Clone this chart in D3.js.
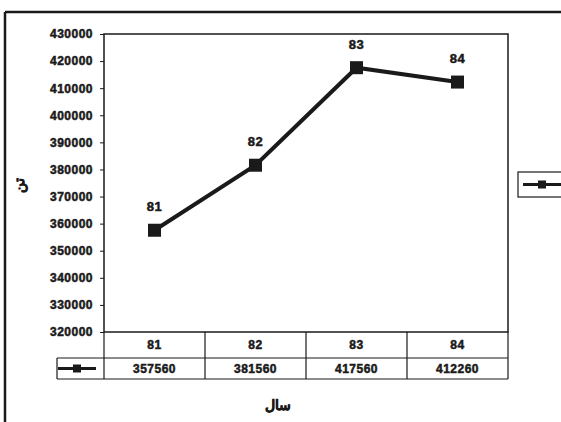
<!DOCTYPE html>
<html>
<head>
<meta charset="utf-8">
<script src="https://cdn.jsdelivr.net/npm/d3@7"></script>
<style>
  body { margin: 0; background: #fff; }
  svg text { font-family: "Liberation Sans", Arial, sans-serif; font-weight: bold; }
</style>
</head>
<body>
<svg id="chart"></svg>
<script>
const svg = d3.select("#chart");
const width = 561;
const height = 422;
svg.attr("width", width).attr("height", height);

// data
const years = ["81", "82", "83", "84"];
const values = [357560, 381560, 417560, 412260];
const yTicks = [320000, 330000, 340000, 350000, 360000, 370000, 380000, 390000, 400000, 410000, 420000, 430000];
const yTitle = "تن";
const xTitle = "سال";

const plot = { left: 104, right: 508, top: 34, bottom: 332 };
const rowH = [26, 21];
const ink = "#1a1a1a";

const x = d3.scaleBand().domain(years).range([plot.left, plot.right]);
const y = d3.scaleLinear().domain([320000, 430000]).range([plot.bottom, plot.top]);

// heavy text look of the scanned chart
function heavy(sel, size) {
    sel.attr("font-size", size).attr("fill", ink)
        .attr("stroke", ink).attr("stroke-width", 0.5)
        .style("letter-spacing", "0.5px")
        .style("font-family", "'Liberation Sans', Arial, sans-serif").style("font-weight", "bold");
}

// outer frame
svg.append("line").attr("x1", 5).attr("x2", width).attr("y1", 12).attr("y2", 12)
    .attr("stroke", ink).attr("stroke-width", 2.5);
svg.append("line").attr("x1", 5).attr("x2", 5).attr("y1", 12).attr("y2", height)
    .attr("stroke", ink).attr("stroke-width", 2.5);

// plot area border
svg.append("rect")
    .attr("x", plot.left).attr("y", plot.top)
    .attr("width", plot.right - plot.left).attr("height", plot.bottom - plot.top)
    .attr("fill", "none").attr("stroke", ink).attr("stroke-width", 1.5);

// y axis
const yAxis = svg.append("g")
    .attr("transform", `translate(${plot.left},0)`)
    .call(d3.axisLeft(y).tickValues(yTicks).tickSize(4).tickPadding(7).tickFormat(d3.format("d")));
yAxis.select(".domain").remove();
yAxis.selectAll("line").attr("stroke", ink);
heavy(yAxis.selectAll("text"), 12);

// y title
heavy(svg.append("text")
    .attr("transform", `translate(24,185) rotate(-90)`)
    .attr("text-anchor", "middle")
    .text(yTitle), 14);

// line
const line = d3.line()
    .x((d, i) => x(years[i]) + x.bandwidth() / 2)
    .y(d => y(d));

svg.append("path")
    .datum(values)
    .attr("d", line)
    .attr("fill", "none").attr("stroke", ink).attr("stroke-width", 4);

const ms = 13;
svg.selectAll(".marker")
    .data(values)
    .enter()
    .append("rect")
    .attr("class", "marker")
    .attr("x", (d, i) => x(years[i]) + x.bandwidth() / 2 - ms / 2)
    .attr("y", d => y(d) - ms / 2)
    .attr("width", ms).attr("height", ms)
    .attr("fill", ink);

// data labels
heavy(svg.selectAll(".dlabel")
    .data(values)
    .enter()
    .append("text")
    .attr("class", "dlabel")
    .attr("x", (d, i) => x(years[i]) + x.bandwidth() / 2)
    .attr("y", d => y(d) - 19)
    .attr("text-anchor", "middle")
    .text((d, i) => years[i]), 13);

// data table
const t0 = plot.bottom;
const t1 = t0 + rowH[0];
const t2 = t1 + rowH[1];
const keyLeft = 57;
const tbl = svg.append("g").attr("stroke", ink).attr("stroke-width", 1.2);
tbl.append("line").attr("x1", keyLeft).attr("x2", plot.right).attr("y1", t1).attr("y2", t1);
tbl.append("line").attr("x1", keyLeft).attr("x2", plot.right).attr("y1", t2).attr("y2", t2);
tbl.append("line").attr("x1", keyLeft).attr("x2", keyLeft).attr("y1", t1).attr("y2", t2);
tbl.selectAll(".vline")
    .data(years.concat(["end"]))
    .enter()
    .append("line")
    .attr("x1", (d, i) => plot.left + i * x.step())
    .attr("x2", (d, i) => plot.left + i * x.step())
    .attr("y1", t0).attr("y2", t2);

heavy(svg.selectAll(".cat")
    .data(years)
    .enter()
    .append("text")
    .attr("x", d => x(d) + x.bandwidth() / 2)
    .attr("y", t0 + rowH[0] / 2 + 4)
    .attr("text-anchor", "middle")
    .text(d => d), 12);

heavy(svg.selectAll(".val")
    .data(values)
    .enter()
    .append("text")
    .attr("x", (d, i) => x(years[i]) + x.bandwidth() / 2)
    .attr("y", t1 + rowH[1] / 2 + 4)
    .attr("text-anchor", "middle")
    .text(d => d), 12);

function legendKey(g, cx, cy, half, size) {
    g.append("line").attr("x1", cx - half).attr("x2", cx + half).attr("y1", cy).attr("y2", cy)
        .attr("stroke", ink).attr("stroke-width", 3);
    g.append("rect").attr("x", cx - size / 2).attr("y", cy - size / 2)
        .attr("width", size).attr("height", size).attr("fill", ink);
}
legendKey(svg.append("g"), 77, (t1 + t2) / 2, 19, 8);

// x title
heavy(svg.append("text")
    .attr("x", (plot.left + plot.right) / 2 - 28)
    .attr("y", 410)
    .attr("text-anchor", "middle")
    .text(xTitle), 14);

// legend at the right, cut off by the edge
const leg = svg.append("g");
leg.append("rect").attr("x", 518).attr("y", 172).attr("width", 60).attr("height", 25)
    .attr("fill", "#fff").attr("stroke", ink).attr("stroke-width", 1.2);
legendKey(leg, 542, 184.5, 19, 8);
</script>
</body>
</html>
